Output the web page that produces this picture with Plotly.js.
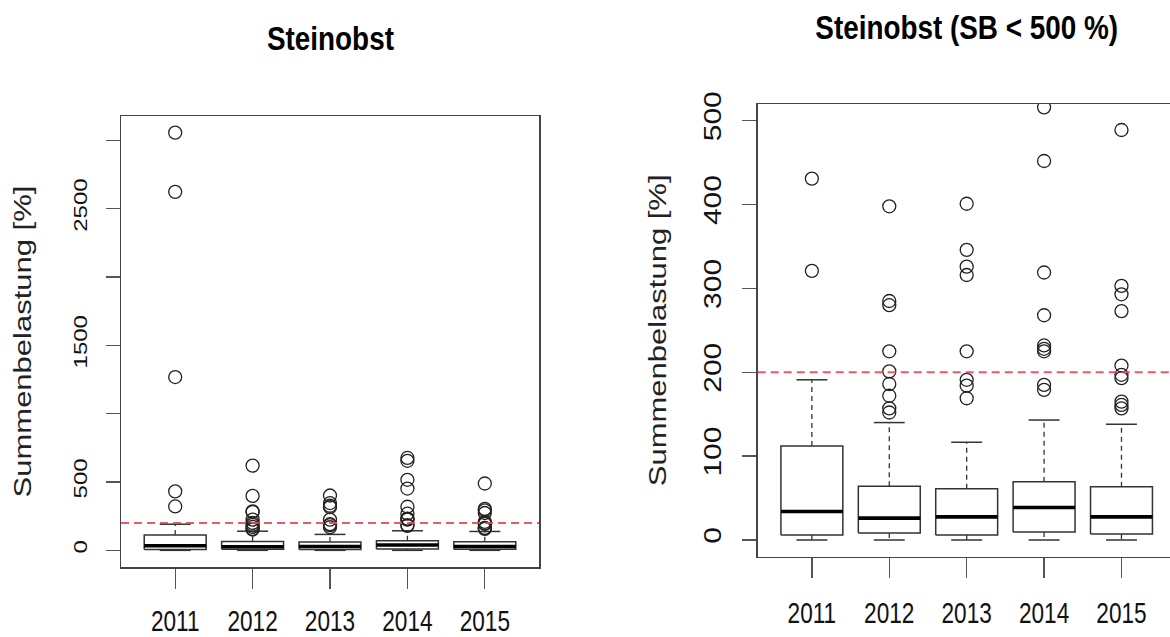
<!DOCTYPE html>
<html>
<head>
<meta charset="utf-8">
<script src="https://cdn.plot.ly/plotly-3.0.1.min.js"></script>
<style>
  html, body { margin: 0; padding: 0; background: #fff; }
  #chart { width: 1170px; height: 637px; }
</style>
</head>
<body>
<div id="chart"></div>
<script>
// ---- data ----
const years = ['2011', '2012', '2013', '2014', '2015'];
const q1 = [6, 8.4, 6, 9.6, 7.2];
const medians = [34, 26, 27.5, 38.7, 27.5];
const q3 = [112, 64, 61, 69.4, 63.5];
const whiskerLow = [0, 0, 0, 0, 0];
const whiskerHigh = [191, 140, 116.5, 143, 138];
const outliers2011 = [3056, 2623, 1268, 431, 321];
const outliers2012 = [620, 398, 285, 280, 225, 201, 186, 172, 157, 152];
const outliers2013 = [401, 346, 326, 316, 225, 191, 184, 169];
const outliers2014 = [676, 655, 516, 452, 319, 268, 232, 228, 225, 185, 179];
const outliers2015 = [489, 303, 293, 273, 208, 197, 193, 165, 161, 157];
const limitValue = 200;
const leftTitle = 'Steinobst';
const rightTitle = 'Steinobst (SB < 500 %)';
const yTitle = 'Summenbelastung [%]';
const leftTickVals = [0, 500, 1000, 1500, 2000, 2500, 3000];
const leftTickText = ['0', '500', '', '1500', '', '2500', ''];
const rightTickVals = [0, 100, 200, 300, 400, 500];
const rightTickText = ['0', '100', '200', '300', '400', '500'];

const allOutliers = [outliers2011, outliers2012, outliers2013, outliers2014, outliers2015];

// ---- styling ----
const SANS = '"Liberation Sans", Arial, Helvetica, sans-serif';
const BOXW = 0.4;     // half box width (R boxwex 0.8)
const STAPLE = 0.2;   // half staple width
const pos = years.map((_, i) => i + 1);

function buildTraces(xa, ya) {
  const bx = [], by = [], mx = [], my = [], wx = [], wy = [], sx = [], sy = [], ox = [], oy = [];
  pos.forEach((p, i) => {
    bx.push(p - BOXW, p + BOXW, p + BOXW, p - BOXW, p - BOXW, null);
    by.push(q1[i], q1[i], q3[i], q3[i], q1[i], null);
    mx.push(p - BOXW, p + BOXW, null);
    my.push(medians[i], medians[i], null);
    wx.push(p, p, null, p, p, null);
    wy.push(q3[i], whiskerHigh[i], null, q1[i], whiskerLow[i], null);
    sx.push(p - STAPLE, p + STAPLE, null, p - STAPLE, p + STAPLE, null);
    sy.push(whiskerHigh[i], whiskerHigh[i], null, whiskerLow[i], whiskerLow[i], null);
    allOutliers[i].forEach(v => { ox.push(p); oy.push(v); });
  });
  const common = { xaxis: xa, yaxis: ya, type: 'scatter', hoverinfo: 'skip', showlegend: false };
  return [
    Object.assign({}, common, { x: wx, y: wy, mode: 'lines', line: { color: '#333', width: 1.3, dash: '5px,4px' } }),
    Object.assign({}, common, { x: sx, y: sy, mode: 'lines', line: { color: '#333', width: 1.5 } }),
    Object.assign({}, common, { x: bx, y: by, mode: 'lines', line: { color: '#333', width: 1.5 } }),
    Object.assign({}, common, { x: mx, y: my, mode: 'lines', line: { color: '#000', width: 3.6 } }),
    Object.assign({}, common, { x: ox, y: oy, mode: 'markers',
      marker: { symbol: 'circle-open', size: 13, color: '#222', line: { width: 1.3, color: '#222' } } })
  ];
}

const data = buildTraces('x', 'y').concat(buildTraces('x2', 'y2'));

const W = 1170, H = 637;
const xAxisBase = {
  tickvals: pos, ticktext: years, ticks: 'outside', ticklen: 20, tickwidth: 1.3, tickcolor: '#555',
  showline: true, linecolor: '#444', linewidth: 1.5, mirror: true,
  showgrid: false, zeroline: false, fixedrange: true,
  tickfont: { family: SANS, size: 29, color: '#111' }
};
const yAxisBase = {
  ticks: 'outside', ticklen: 14, tickwidth: 1.3, tickcolor: '#555', tickangle: -90,
  showline: true, linecolor: '#444', linewidth: 1.5,
  showgrid: false, zeroline: false, fixedrange: true, ticklabelstandoff: 7
};

const layout = {
  width: W, height: H,
  margin: { l: 0, r: 0, t: 0, b: 0 },
  paper_bgcolor: '#fff', plot_bgcolor: '#fff',
  showlegend: false,
  xaxis: Object.assign({}, xAxisBase, {
    domain: [121 / W, 539 / W], range: [0.3, 5.7], anchor: 'y', ticklabelstandoff: 8
  }),
  yaxis: Object.assign({}, yAxisBase, {
    domain: [1 - 567 / H, 1 - 116 / H], range: [-122, 3178], anchor: 'x', mirror: true,
    tickvals: leftTickVals, ticktext: leftTickText,
    tickfont: { family: SANS, size: 24, color: '#111' },
    title: { text: yTitle, font: { family: SANS, size: 31, color: '#222' }, standoff: 24 }
  }),
  xaxis2: Object.assign({}, xAxisBase, {
    domain: [757.7 / W, 1], range: [0.3, 0.3 + (W - 757.7) / 77.4], anchor: 'y2', ticklabelstandoff: 10
  }),
  yaxis2: Object.assign({}, yAxisBase, {
    domain: [1 - 556.7 / H, 1 - 104 / H], range: [-20, 520], anchor: 'x2', mirror: false,
    tickvals: rightTickVals, ticktext: rightTickText,
    tickfont: { family: SANS, size: 30, color: '#111' },
    title: { text: yTitle, font: { family: SANS, size: 31, color: '#222' }, standoff: 18 }
  }),
  shapes: [
    { type: 'line', xref: 'x domain', yref: 'y', x0: 0, x1: 1, y0: limitValue, y1: limitValue,
      line: { color: 'rgba(232,72,84,0.9)', width: 2, dash: '8px,5px' } },
    { type: 'line', xref: 'x2 domain', yref: 'y2', x0: 0, x1: 1, y0: limitValue, y1: limitValue,
      line: { color: 'rgba(232,72,84,0.9)', width: 2, dash: '8px,5px' } }
  ],
  annotations: [
    { text: '<b>' + leftTitle + '</b>', xref: 'paper', yref: 'paper', x: 330 / W, y: 1 - 38 / H,
      xanchor: 'center', yanchor: 'middle', showarrow: false,
      font: { family: SANS, size: 34, color: '#000' } },
    { text: '<b>' + rightTitle.replace('<', '&lt;') + '</b>', xref: 'paper', yref: 'paper', x: 967 / W, y: 1 - 27 / H,
      xanchor: 'center', yanchor: 'middle', showarrow: false,
      font: { family: SANS, size: 34, color: '#000' } }
  ]
};

// The reference lettering is horizontally condensed; narrow each text about its own centre.
function squeeze(selector, factor, localAxis) {
  document.querySelectorAll(selector).forEach(el => {
    const bb = el.getBBox();
    const t = el.getAttribute('transform') || '';
    if (localAxis === 'x') {
      const cx = bb.x + bb.width / 2;
      el.setAttribute('transform', t + ' translate(' + cx + ',0) scale(' + factor + ',1) translate(' + (-cx) + ',0)');
    } else {
      const cy = bb.y + bb.height / 2;
      el.setAttribute('transform', t + ' translate(0,' + cy + ') scale(1,' + factor + ') translate(0,' + (-cy) + ')');
    }
  });
}

Plotly.newPlot('chart', data, layout, { staticPlot: true, displayModeBar: false }).then(() => {
  squeeze('.xtick text, .x2tick text', 0.78, 'x');
  squeeze('.annotation-text', 0.82, 'x');
  squeeze('.ytick text, .y2tick text', 0.8, 'y');
  squeeze('.ytitle, .y2title', 0.8, 'y');
});
</script>
</body>
</html>
